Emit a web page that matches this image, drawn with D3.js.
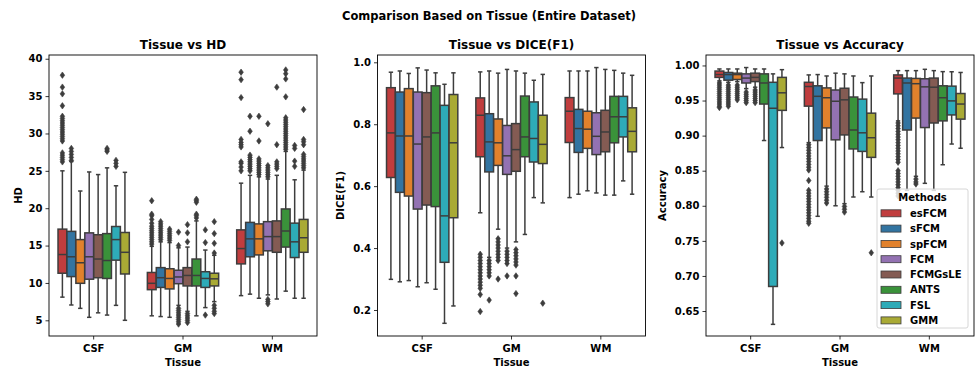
<!DOCTYPE html>
<html>
<head>
<meta charset="utf-8">
<script src="https://cdn.jsdelivr.net/npm/d3@7"></script>
<style>
  body { margin: 0; background: #fff; }
  text { font-family: "DejaVu Sans", sans-serif; font-weight: bold; fill: #000; }
</style>
</head>
<body>
<div id="chart"></div>
<script>
// categories
const tissues = ["CSF", "GM", "WM"];
const methods = ["esFCM", "sFCM", "spFCM", "FCM", "FCMGsLE", "ANTS", "FSL", "GMM"];
const methodColors = ["#c03d3e", "#3274a1", "#e1812c", "#9372b2", "#845b53", "#3a923a", "#2eabb8", "#a9aa35"];

// box stats per method: [whiskerLow, q1, median, q3, whiskerHigh]
const hdCSF = [
  [8.1, 11.3, 13.8, 17.2, 25.0], [7.05, 10.85, 13.5, 16.9, 26.25], [6.6, 9.95, 12.7, 15.8, 22.3], [5.4, 10.5, 13.5, 16.7, 24.85],
  [6.0, 10.7, 13.2, 16.45, 24.5], [5.7, 10.6, 13.0, 16.6, 25.4], [7.0, 13.05, 15.8, 17.55, 23.0], [5.0, 11.2, 14.1, 16.75, 24.8]
];
const hdGM = [
  [5.6, 9.1, 9.95, 11.4, 14.9], [5.5, 9.4, 10.7, 12.05, 15.5], [5.4, 9.2, 10.6, 11.9, 15.4], [7.0, 9.9, 10.8, 11.7, 14.7],
  [6.2, 9.6, 11.0, 12.05, 14.8], [5.6, 9.6, 11.0, 13.2, 18.3], [6.7, 9.4, 10.6, 11.5, 14.4], [7.5, 9.6, 10.55, 11.3, 13.7]
];
const hdWM = [
  [8.3, 12.55, 14.6, 17.1, 23.35], [8.5, 13.5, 15.9, 18.1, 24.4], [7.95, 13.75, 15.9, 17.9, 24.2], [8.4, 14.3, 16.2, 18.2, 23.9],
  [7.85, 14.1, 16.2, 18.3, 24.4], [8.9, 14.8, 16.95, 19.9, 27.6], [7.95, 13.4, 15.5, 18.0, 23.8], [7.95, 14.1, 16.05, 18.5, 25.1]
];
const hdCSFOut = [
  [26.2, 26.5, 26.8, 27.1, 27.4, 29.0, 29.3, 29.6, 29.9, 30.2, 30.5, 30.8, 31.1, 31.4, 31.7, 32.0, 32.3, 33.7, 35.3, 36.2, 37.8],
  [26.4, 26.8, 27.2, 27.6, 28.0], [], [], [], [27.6, 27.8, 28.0], [25.6, 26.0, 26.4], []
];
const hdGMOut = [
  [15.2, 15.5, 15.8, 16.1, 16.4, 16.7, 17.0, 17.3, 17.6, 18.0, 18.5, 19.0, 19.2, 21.0],
  [15.8, 16.1, 16.4, 16.7, 17.0, 17.3, 17.6, 17.9, 18.2],
  [15.7, 16.0, 16.3, 16.6, 16.9, 17.2],
  [15.0, 16.8, 4.5, 4.8, 5.1, 5.4, 5.7, 6.0, 6.3, 6.6],
  [15.5, 16.7, 17.8, 4.7, 5.0, 5.3, 5.6, 5.9],
  [18.7, 19.0, 19.2, 20.8, 21.0, 21.2],
  [15.4, 17.1, 5.7],
  [14.0, 15.3, 16.6, 18.2, 5.9, 6.2, 6.6, 7.0]
];
const hdWMOut = [
  [25.0, 25.5, 26.0, 26.2, 28.2, 28.5, 28.8, 29.2, 34.8, 37.2, 38.2],
  [25.0, 25.3, 25.6, 25.9, 26.2, 26.5, 26.8, 27.1, 30.3, 32.3],
  [24.5, 24.8, 25.1, 25.4, 25.7, 26.0, 26.3, 26.6, 29.0, 32.3],
  [24.2, 24.5, 24.8, 25.1, 25.4, 25.7, 31.3, 7.2, 7.5, 7.8],
  [25.3, 25.6, 25.9, 26.2, 28.5, 36.2],
  [27.9, 28.2, 28.5, 28.8, 29.1, 29.4, 29.7, 30.0, 30.3, 30.6, 30.9, 31.2, 31.5, 31.8, 32.1, 34.9, 37.3, 38.0, 38.5],
  [25.6, 26.3, 28.0, 28.4],
  [25.4, 25.7, 26.0, 26.3, 26.6, 26.9, 27.2, 28.5, 28.9, 29.2, 33.2]
];

const diceCSF = [
  [0.299, 0.628, 0.772, 0.918, 0.968], [0.291, 0.58, 0.762, 0.904, 0.972], [0.295, 0.568, 0.762, 0.915, 0.964], [0.275, 0.526, 0.736, 0.904, 0.982],
  [0.288, 0.539, 0.759, 0.902, 0.975], [0.267, 0.534, 0.772, 0.924, 0.966], [0.157, 0.354, 0.504, 0.861, 0.929], [0.213, 0.498, 0.740, 0.896, 0.966]
];
const diceGM = [
  [0.514, 0.695, 0.829, 0.885, 0.969], [0.37, 0.646, 0.743, 0.834, 0.972], [0.461, 0.667, 0.740, 0.817, 0.965], [0.40, 0.638, 0.698, 0.796, 0.977],
  [0.42, 0.648, 0.718, 0.802, 0.972], [0.444, 0.695, 0.759, 0.891, 0.965], [0.563, 0.678, 0.754, 0.872, 0.942], [0.546, 0.673, 0.735, 0.829, 0.961]
];
const diceWM = [
  [0.563, 0.741, 0.842, 0.886, 0.972], [0.574, 0.709, 0.786, 0.848, 0.972], [0.585, 0.722, 0.784, 0.842, 0.972], [0.578, 0.702, 0.761, 0.837, 0.983],
  [0.571, 0.711, 0.775, 0.845, 0.977], [0.571, 0.740, 0.824, 0.890, 0.974], [0.617, 0.759, 0.824, 0.890, 0.965], [0.574, 0.711, 0.777, 0.853, 0.958]
];
const diceCSFOut = [[], [], [], [], [], [], [], []];
const diceGMOut = [
  [0.38, 0.37, 0.36, 0.35, 0.34, 0.33, 0.32, 0.31, 0.30, 0.29, 0.28, 0.27, 0.25, 0.195],
  [0.36, 0.35, 0.34, 0.33, 0.32, 0.31, 0.232],
  [0.43, 0.42, 0.41, 0.40, 0.39, 0.38, 0.37, 0.36, 0.30],
  [0.39, 0.38, 0.37, 0.36, 0.35, 0.31],
  [0.395, 0.385, 0.375, 0.365, 0.355, 0.345, 0.31, 0.253],
  [], [], [0.222]
];
const diceWMOut = [[], [], [], [], [], [], [], []];

const accCSF = [
  [0.978, 0.983, 0.987, 0.992, 0.995], [0.976, 0.979, 0.987, 0.990, 0.995], [0.977, 0.980, 0.987, 0.989, 0.995], [0.967, 0.975, 0.982, 0.988, 0.997],
  [0.969, 0.977, 0.983, 0.989, 0.995], [0.893, 0.945, 0.975, 0.988, 0.995], [0.631, 0.685, 0.939, 0.976, 0.988], [0.883, 0.936, 0.961, 0.983, 0.994]
];
const accGM = [
  [0.89, 0.942, 0.970, 0.976, 0.9865], [0.785, 0.893, 0.956, 0.971, 0.987], [0.828, 0.911, 0.954, 0.968, 0.985], [0.80, 0.894, 0.949, 0.965, 0.989],
  [0.803, 0.901, 0.951, 0.9675, 0.988], [0.8125, 0.881, 0.908, 0.955, 0.985], [0.82, 0.8775, 0.904, 0.952, 0.9755], [0.8125, 0.869, 0.897, 0.932, 0.985]
];
const accWM = [
  [0.921, 0.9595, 0.982, 0.9865, 0.9926], [0.822, 0.908, 0.975, 0.982, 0.9926], [0.842, 0.925, 0.974, 0.9815, 0.9926], [0.832, 0.9115, 0.9695, 0.981, 0.9945],
  [0.822, 0.918, 0.969, 0.982, 0.9926], [0.8585, 0.921, 0.954, 0.971, 0.9912], [0.888, 0.9295, 0.9495, 0.9705, 0.991], [0.882, 0.9235, 0.945, 0.960, 0.990]
];
const accCSFOut = [
  [0.975, 0.972, 0.969, 0.966, 0.963, 0.960, 0.957, 0.954, 0.951, 0.948, 0.945, 0.942, 0.940],
  [0.972, 0.969, 0.966, 0.963, 0.960, 0.957, 0.954, 0.951, 0.948, 0.945, 0.942],
  [0.972, 0.969, 0.966, 0.963, 0.960, 0.957, 0.954, 0.951],
  [0.962, 0.959, 0.956, 0.953, 0.950, 0.947],
  [0.965, 0.962, 0.959, 0.956, 0.953, 0.950, 0.947],
  [], [], [0.747]
];
const accGMOut = [
  [0.887, 0.883, 0.879, 0.875, 0.871, 0.867, 0.863, 0.859, 0.855, 0.851, 0.836, 0.822, 0.818, 0.814, 0.810, 0.806, 0.802, 0.798, 0.794, 0.790, 0.786, 0.782, 0.778, 0.775],
  [],
  [0.824, 0.820, 0.816, 0.812, 0.808, 0.804],
  [],
  [0.799, 0.795, 0.791],
  [], [], [0.733]
];
const accWMOut = [
  [0.918, 0.914, 0.910, 0.906, 0.902, 0.898, 0.894, 0.890, 0.886, 0.882, 0.878, 0.874, 0.870, 0.866, 0.862, 0.850, 0.846, 0.842, 0.838, 0.834, 0.830, 0.826, 0.822, 0.818, 0.814],
  [],
  [0.838, 0.834, 0.831],
  [], [], [], [], []
];

// tick labels
const hdTicks = [5, 10, 15, 20, 25, 30, 35, 40];
const diceTicks = [0.2, 0.4, 0.6, 0.8, 1.0];
const accTicks = [0.65, 0.70, 0.75, 0.80, 0.85, 0.90, 0.95, 1.00];

const panels = [
  { title: "Tissue vs HD", ylabel: "HD", left: 49, domain: [2.9, 40.5], ticks: hdTicks, fmt: d3.format("d"), labelOff: 31,
    stats: [hdCSF, hdGM, hdWM], outs: [hdCSFOut, hdGMOut, hdWMOut] },
  { title: "Tissue vs DICE(F1)", ylabel: "DICE(F1)", left: 377.5, domain: [0.116, 1.0236], ticks: diceTicks, fmt: d3.format(".1f"), labelOff: 37,
    stats: [diceCSF, diceGM, diceWM], outs: [diceCSFOut, diceGMOut, diceWMOut] },
  { title: "Tissue vs Accuracy", ylabel: "Accuracy", left: 706, domain: [0.6144, 1.0149], ticks: accTicks, fmt: d3.format(".2f"), labelOff: 44,
    stats: [accCSF, accGM, accWM], outs: [accCSFOut, accGMOut, accWMOut] }
];

const W = 978, H = 371;
const plotTop = 55, plotBottom = 336, pw = 268;
const gray = "#3d3d3d";

const svg = d3.select("#chart").append("svg")
  .attr("width", W).attr("height", H)
  .style("background", "#fff");

svg.append("text")
  .attr("x", W / 2).attr("y", 20)
  .attr("text-anchor", "middle")
  .style("font-size", "11.5px")
  .text("Comparison Based on Tissue (Entire Dataset)");

// thin diamond flier marker
const diamond = "M0,-3.2L2.3,0L0,3.2L-2.3,0Z";

panels.forEach(p => {
  const g = svg.append("g").attr("transform", `translate(${p.left},0)`);
  const x = d3.scaleBand().domain(tissues).range([0, pw]).padding(0);
  const y = d3.scaleLinear().domain(p.domain).range([plotBottom, plotTop]);
  const bw = x.bandwidth();
  const boxW = bw * 0.1 * 0.98;

  // axes
  const yAxis = g.append("g")
    .call(d3.axisLeft(y).tickValues(p.ticks).tickFormat(p.fmt).tickSize(3.5).tickPadding(3));
  const xAxis = g.append("g").attr("transform", `translate(0,${plotBottom})`)
    .call(d3.axisBottom(x).tickSize(3.5).tickPadding(4));
  [yAxis, xAxis].forEach(a => {
    a.select(".domain").remove();
    a.selectAll("line").attr("stroke", "#000").attr("stroke-width", 0.8);
    a.selectAll("text").style("font-size", "10px").style("font-family", "DejaVu Sans").style("font-weight", "bold").attr("fill", "#000");
  });
  xAxis.selectAll("text").attr("dy", "0.8em");

  tissues.forEach((t, ti) => {
    const stats = p.stats[ti];
    const outs = p.outs[ti];
    methods.forEach((m, mi) => {
      const cx = x(t) + bw / 2 + (mi - 3.5) * bw * 0.1;
      const [lo, q1, med, q3, hi] = stats[mi];
      const bg = g.append("g").attr("class", "box");
      // whiskers
      bg.append("line").attr("x1", cx).attr("x2", cx).attr("y1", y(q3)).attr("y2", y(hi))
        .attr("stroke", gray).attr("stroke-width", 1.5);
      bg.append("line").attr("x1", cx).attr("x2", cx).attr("y1", y(q1)).attr("y2", y(lo))
        .attr("stroke", gray).attr("stroke-width", 1.5);
      // caps
      [lo, hi].forEach(v => {
        bg.append("line").attr("x1", cx - boxW / 4).attr("x2", cx + boxW / 4).attr("y1", y(v)).attr("y2", y(v))
          .attr("stroke", gray).attr("stroke-width", 1.5);
      });
      // box
      bg.append("rect")
        .attr("x", cx - boxW / 2).attr("width", boxW)
        .attr("y", y(q3)).attr("height", y(q1) - y(q3))
        .attr("fill", methodColors[mi])
        .attr("stroke", gray).attr("stroke-width", 1.5);
      bg.append("line").attr("x1", cx - boxW / 2).attr("x2", cx + boxW / 2).attr("y1", y(med)).attr("y2", y(med))
        .attr("stroke", gray).attr("stroke-width", 1.5);
      // outliers
      bg.selectAll("path.flier").data(outs[mi]).enter().append("path")
        .attr("class", "flier")
        .attr("d", diamond)
        .attr("transform", d => `translate(${cx},${y(d)})`)
        .attr("fill", gray).attr("stroke", gray).attr("stroke-width", 0.6);
    });
  });

  // frame
  g.append("rect").attr("x", 0).attr("y", plotTop).attr("width", pw).attr("height", plotBottom - plotTop)
    .attr("fill", "none").attr("stroke", "#000").attr("stroke-width", 0.9);

  g.append("text").attr("x", pw / 2).attr("y", 49).attr("text-anchor", "middle")
    .style("font-size", "12px").text(p.title);
  g.append("text").attr("x", pw / 2).attr("y", 366).attr("text-anchor", "middle")
    .style("font-size", "10px").text("Tissue");
  g.append("text")
    .attr("transform", `translate(${-p.labelOff + 3.6},${(plotTop + plotBottom) / 2}) rotate(-90)`)
    .attr("text-anchor", "middle")
    .style("font-size", "10px").text(p.ylabel);
});

// legend
const lg = svg.append("g").attr("transform", "translate(877,189)");
lg.append("rect").attr("width", 91).attr("height", 139).attr("rx", 2)
  .attr("fill", "#fff").attr("fill-opacity", 0.8).attr("stroke", "#cccccc").attr("stroke-width", 0.8);
lg.append("text").attr("x", 45.5).attr("y", 12).attr("text-anchor", "middle")
  .style("font-size", "10px").text("Methods");
methods.forEach((m, i) => {
  const cy = 24.3 + i * 15.3;
  lg.append("rect").attr("x", 4).attr("y", cy - 3.5).attr("width", 20).attr("height", 7)
    .attr("fill", methodColors[i]).attr("stroke", gray).attr("stroke-width", 0.8);
  lg.append("text").attr("x", 33).attr("y", cy + 3.6)
    .style("font-size", "10px").text(m);
});
</script>
</body>
</html>
